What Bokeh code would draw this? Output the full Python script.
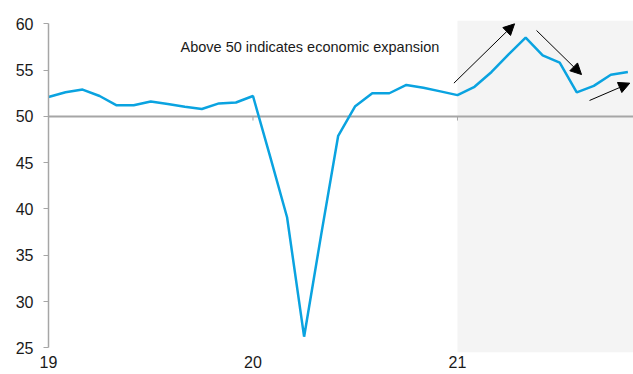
from bokeh.plotting import figure
from bokeh.models import (Range1d, FixedTicker, BoxAnnotation, Span, Arrow, NormalHead)
from bokeh.core.properties import value
from bokeh.embed import file_html
from bokeh.resources import INLINE

# ---- data (monthly, Jan 2019 .. Nov 2021; x = months since Jan 2019) ----
months = list(range(35))
pmi = [52.1, 52.6, 52.9, 52.2, 51.2, 51.2, 51.6, 51.35, 51.05, 50.8, 51.4, 51.5,
       52.2, 45.7, 39.1, 26.2, 37.2, 47.9, 51.1, 52.5, 52.5, 53.4, 53.1, 52.7,
       52.3, 53.2, 54.8, 56.7, 58.5, 56.6, 55.8, 52.6, 53.3, 54.5, 54.8]
year_ticks = [0, 12, 24]
year_labels = ["19", "20", "21"]
y_ticks = [25, 30, 35, 40, 45, 50, 55, 60]
threshold = 50
shade_start = 24
note = "Above 50 indicates economic expansion"
note_x, note_y = 7.75, 57.55
arrow_x0 = [23.79, 28.64, 31.75]
arrow_y0 = [53.59, 59.28, 51.72]
arrow_x1 = [27.35, 31.28, 34.11]
arrow_y1 = [60.0, 54.52, 53.59]

FONT = "Liberation Sans"
LINE = "#0aa3e0"
GREY = "#a6a6a6"

p = figure(width=633, height=374, output_backend="svg", toolbar_location=None,
           x_range=Range1d(0, 34.33), y_range=Range1d(24.49, 60.36),
           min_border_left=48, min_border_right=0, min_border_top=20, min_border_bottom=22)
p.outline_line_color = None
p.grid.visible = False
p.background_fill_color = "white"
p.border_fill_color = "white"

# shaded recent region
p.add_layout(BoxAnnotation(left=shade_start, fill_color="#f4f4f4", fill_alpha=1.0,
                           line_color=None, level="underlay"))
# threshold line
p.add_layout(Span(location=threshold, dimension="width", line_color=GREY,
                  line_width=2, level="underlay"))
# small ticks hanging below the 50 line
p.segment(x0=year_ticks[1:], y0=[threshold] * 2, x1=year_ticks[1:],
          y1=[threshold - 0.45] * 2, line_color=GREY, line_width=1)

p.line(months, pmi, line_color=LINE, line_width=2.5)

p.text(x=[note_x], y=[note_y], text=[note], text_font=value(FONT),
       text_font_size="14.5px", text_color="#1a1a1a", text_baseline="middle",
       text_align="left")

for x0, y0, x1, y1 in zip(arrow_x0, arrow_y0, arrow_x1, arrow_y1):
    p.add_layout(Arrow(x_start=x0, y_start=y0, x_end=x1, y_end=y1,
                       line_color="black", line_width=1,
                       end=NormalHead(size=11, fill_color="black", line_color="black")))

# y axis
ya = p.yaxis[0]
ya.ticker = FixedTicker(ticks=y_ticks)
ya.bounds = (25, 60)
ya.axis_line_color = GREY
ya.axis_line_width = 1.5
ya.major_tick_line_color = GREY
ya.major_tick_in = 0
ya.major_tick_out = 5
ya.minor_tick_line_color = None
ya.major_label_standoff = 10
ya.major_label_text_font = FONT
ya.major_label_text_font_size = "16px"
ya.major_label_text_color = "#1a1a1a"

# x axis: labels only
xa = p.xaxis[0]
xa.ticker = FixedTicker(ticks=year_ticks)
xa.major_label_overrides = {t: l for t, l in zip(year_ticks, year_labels)}
xa.axis_line_color = None
xa.major_tick_line_color = None
xa.minor_tick_line_color = None
xa.major_tick_in = 0
xa.major_tick_out = 0
xa.major_label_standoff = 3
xa.major_label_text_font = FONT
xa.major_label_text_font_size = "16px"
xa.major_label_text_color = "#1a1a1a"

open("out.html", "w").write(file_html(p, INLINE))
